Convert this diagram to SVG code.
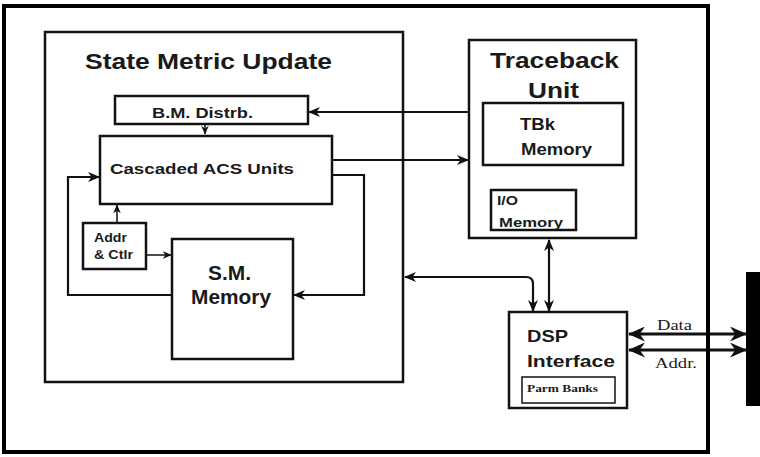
<svg xmlns="http://www.w3.org/2000/svg" width="760" height="457" viewBox="0 0 760 457">
<defs>
<style>
.box{fill:#fff;stroke:#111;stroke-width:2.5}
.t{font-family:"Liberation Sans",Arial,sans-serif;font-weight:bold;fill:#1a1a1a}
.s{font-family:"Liberation Serif","Times New Roman",serif;fill:#1a1a1a}
.c{fill:none;stroke:#111;stroke-width:2.2}
.thin{fill:none;stroke:#111;stroke-width:1.5}
.bus{fill:none;stroke:#111;stroke-width:3.2}
</style>
<marker id="a" viewBox="0 0 12 10" refX="11" refY="5" markerWidth="12" markerHeight="10" markerUnits="userSpaceOnUse" orient="auto-start-reverse">
<path d="M0,0 L12,5 L0,10 L3.5,5 z" fill="#111"/>
</marker>
<marker id="s" viewBox="0 0 12 10" refX="11" refY="5" markerWidth="9" markerHeight="8" markerUnits="userSpaceOnUse" orient="auto-start-reverse">
<path d="M0,0 L12,5 L0,10 L3.5,5 z" fill="#111"/>
</marker>
<marker id="b" viewBox="0 0 16 14" refX="15" refY="7" markerWidth="18" markerHeight="15" markerUnits="userSpaceOnUse" orient="auto-start-reverse">
<path d="M0,0 L16,7 L0,14 L5,7 z" fill="#111"/>
</marker>
</defs>

<rect x="4" y="6" width="704" height="446" fill="#fff" stroke="#000" stroke-width="4"/>
<rect x="746" y="272" width="14" height="134" fill="#000"/>

<g id="smu">
<rect class="box" x="45" y="32" width="358" height="350"/>
<text class="t" x="85" y="69" font-size="22" textLength="247" lengthAdjust="spacingAndGlyphs">State Metric Update</text>
</g>

<g id="bm">
<rect class="box" x="115" y="96" width="193" height="28"/>
<text class="t" x="152" y="118" font-size="14" textLength="101" lengthAdjust="spacingAndGlyphs">B.M. Distrb.</text>
</g>

<g id="acs">
<rect class="box" x="100" y="136" width="232" height="68"/>
<text class="t" x="110" y="174" font-size="15" textLength="184" lengthAdjust="spacingAndGlyphs">Cascaded ACS Units</text>
</g>

<g id="addr">
<rect class="box" x="83" y="223" width="63" height="46"/>
<text class="t" x="94" y="242" font-size="13" textLength="33" lengthAdjust="spacingAndGlyphs">Addr</text>
<text class="t" x="94" y="259" font-size="13" textLength="39" lengthAdjust="spacingAndGlyphs">&amp; Ctlr</text>
</g>

<g id="smmem">
<rect class="box" x="172" y="239" width="121" height="120"/>
<text class="t" x="208" y="280" font-size="20" textLength="43" lengthAdjust="spacingAndGlyphs">S.M.</text>
<text class="t" x="191" y="304" font-size="20" textLength="80" lengthAdjust="spacingAndGlyphs">Memory</text>
</g>

<g id="tbu">
<rect class="box" x="469" y="40" width="167" height="198"/>
<text class="t" x="490" y="68" font-size="22" textLength="129" lengthAdjust="spacingAndGlyphs">Traceback</text>
<text class="t" x="528" y="98" font-size="22" textLength="51" lengthAdjust="spacingAndGlyphs">Unit</text>
</g>

<g id="tbk">
<rect class="box" x="483" y="103" width="140" height="62"/>
<text class="t" x="520" y="130" font-size="16" textLength="35" lengthAdjust="spacingAndGlyphs">TBk</text>
<text class="t" x="521" y="155" font-size="16" textLength="71" lengthAdjust="spacingAndGlyphs">Memory</text>
</g>

<g id="io">
<rect class="box" x="491" y="190" width="85" height="40"/>
<text class="t" x="497" y="205" font-size="13" textLength="21" lengthAdjust="spacingAndGlyphs">I/O</text>
<text class="t" x="499" y="227" font-size="13" textLength="64" lengthAdjust="spacingAndGlyphs">Memory</text>
</g>

<g id="dsp">
<rect class="box" x="509" y="312" width="118" height="96"/>
<text class="t" x="527" y="342" font-size="17" textLength="41" lengthAdjust="spacingAndGlyphs">DSP</text>
<text class="t" x="527" y="367" font-size="17" textLength="88" lengthAdjust="spacingAndGlyphs">Interface</text>
<rect x="522" y="377" width="93" height="26" fill="#fff" stroke="#111" stroke-width="1.5"/>
<text class="s" x="527" y="392" font-size="11" font-weight="bold" textLength="71" lengthAdjust="spacingAndGlyphs">Parm Banks</text>
</g>

<g id="connectors">
<path class="c" d="M469,112 H309" marker-end="url(#a)"/>
<path class="c" d="M332,160 H468" marker-end="url(#a)"/>
<path class="thin" d="M205,125 V134" marker-end="url(#s)"/>
<path class="c" d="M172,295 H68 V177 H99" marker-end="url(#a)"/>
<path class="c" d="M332,175 H364 V295 H294" marker-end="url(#a)"/>
<path class="thin" d="M117,223 V205" marker-end="url(#s)"/>
<path class="thin" d="M147,255 H171" marker-end="url(#s)"/>
<path class="c" d="M405,277 H526 Q533,277 533,284 V311" marker-start="url(#a)" marker-end="url(#a)"/>
<path class="c" d="M549,240 V311" marker-start="url(#a)" marker-end="url(#a)"/>
<path class="bus" d="M629,334 H746" marker-start="url(#b)" marker-end="url(#b)"/>
<path class="bus" d="M629,350 H746" marker-start="url(#b)" marker-end="url(#b)"/>
<text class="s" x="657" y="330" font-size="15" textLength="35" lengthAdjust="spacingAndGlyphs">Data</text>
<text class="s" x="655" y="368" font-size="15" textLength="42" lengthAdjust="spacingAndGlyphs">Addr.</text>
</g>
<line x1="708" y1="6" x2="708" y2="452" stroke="#000" stroke-width="4"/>
</svg>
